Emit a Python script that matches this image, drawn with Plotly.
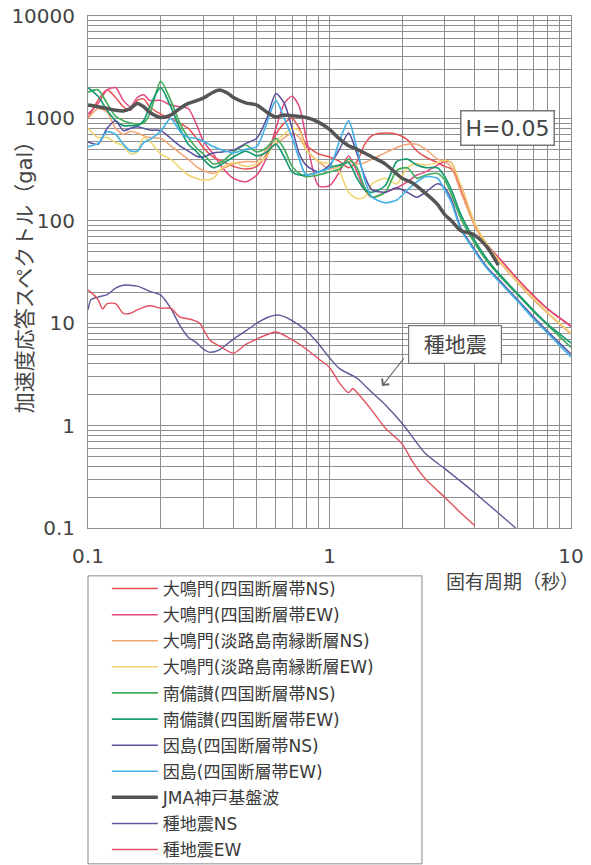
import plotly.graph_objects as go

# ---------------- data ----------------
site_periods = [0.1, 0.11, 0.12, 0.13, 0.14, 0.15, 0.16, 0.17, 0.18,
                0.2, 0.22, 0.24, 0.26, 0.28, 0.3,
                0.33, 0.36, 0.4, 0.45, 0.5,
                0.55, 0.6, 0.65, 0.7, 0.75, 0.8,
                0.9, 1.0, 1.1, 1.2, 1.3, 1.4, 1.5,
                1.7, 1.9, 2.1, 2.3, 2.5,
                2.8, 3.0, 3.2, 3.5, 4.0, 4.5, 5.0,
                6.0, 7.0, 8.0, 10.0]

onaruto_shikoku_ns = [1000, 1500, 1900, 1600, 1300, 1200, 1500, 1550, 1300,
                      1100, 1000, 900, 800, 650, 520,
                      420, 380, 340, 320, 340,
                      450, 700, 900, 1000, 800, 550,
                      450, 420, 380, 330, 380, 560, 680,
                      720, 700, 620, 480, 420,
                      370, 340, 320, 220, 92, 58, 44,
                      27, 18.5, 13.8, 9.4]

onaruto_shikoku_ew = [1100, 1400, 1900, 2000, 1500, 1300, 1600, 1700, 1500,
                      1500, 1350, 1300, 1250, 900, 600,
                      450, 330, 260, 240, 280,
                      420, 800, 1400, 1650, 1300, 650,
                      220, 220, 300, 430, 300, 200, 170,
                      190, 210, 240, 280, 300,
                      350, 380, 370, 200, 92, 58, 44,
                      27, 18.5, 13.8, 9.3]

onaruto_awaji_ns = [1000, 1250, 1150, 800, 700, 750, 720, 680, 650,
                    640, 540, 460, 400, 340, 310,
                    290, 320, 360, 380, 380,
                    500, 560, 650, 720, 650, 500,
                    380, 320, 340, 380, 360, 370, 400,
                    460, 520, 560, 560, 500,
                    400, 380, 330, 190, 88, 55, 41,
                    25, 17, 12.5, 7.8]

onaruto_awaji_ew = [800, 650, 650, 580, 540, 450, 470, 650, 600,
                    450, 400, 330, 280, 260, 250,
                    260, 330, 370, 340, 360,
                    430, 600, 700, 800, 760, 500,
                    380, 360, 300, 190, 165, 170, 230,
                    260, 230, 330, 360, 350,
                    370, 390, 370, 220, 95, 58, 42,
                    25.5, 17.5, 12.8, 8.0]

minamibisan_ns = [1800, 1900, 1400, 1050, 950, 900, 880, 900, 1100,
                  2300, 1500, 900, 650, 520, 450,
                  360, 380, 470, 550, 470,
                  520, 640, 500, 340, 290, 270,
                  280, 300, 320, 400, 330, 210, 170,
                  190, 310, 330, 260, 280,
                  290, 250, 180, 105, 60, 40, 30,
                  19, 13, 9.6, 5.8]

minamibisan_ew = [2000, 1650, 1200, 950, 850, 850, 850, 950, 1300,
                  2000, 1300, 800, 560, 480, 400,
                  330, 360, 420, 480, 430,
                  470, 560, 420, 300, 280, 280,
                  300, 330, 350, 370, 260, 200, 190,
                  220, 380, 400, 350, 330,
                  330, 270, 200, 115, 64, 42, 31,
                  19.5, 13.3, 9.8, 6.4]

innoshima_ns = [590, 560, 800, 950, 760, 800, 830, 800, 770,
                760, 640, 540, 480, 430, 420,
                460, 470, 490, 570, 640,
                1000, 1750, 1400, 800, 450, 350,
                300, 350, 500, 720, 450, 270, 200,
                190, 210, 190, 170, 190,
                230, 210, 160, 85, 52, 35, 27,
                17, 11.5, 8.3, 5.0]

innoshima_ew = [530, 570, 740, 700, 560, 480, 480, 580, 620,
                750, 1000, 750, 650, 640, 600,
                530, 490, 460, 500, 530,
                900, 1500, 1000, 650, 400, 280,
                300, 330, 600, 950, 500, 250, 170,
                150, 160, 200, 240, 270,
                260, 200, 150, 82, 50, 34, 26,
                16.5, 11, 8.0, 4.7]

jma_periods = [0.1, 0.11, 0.12, 0.13, 0.14, 0.15, 0.16, 0.17, 0.18,
               0.2, 0.22, 0.24, 0.26, 0.28, 0.3,
               0.33, 0.35, 0.38, 0.4,
               0.45, 0.5, 0.55, 0.6, 0.65, 0.7,
               0.8, 0.9, 1.0, 1.1, 1.2, 1.3,
               1.5, 1.7, 2.0, 2.2, 2.5, 2.8,
               3.0, 3.2, 3.5, 3.8, 4.0, 4.5, 5.0]
jma_kobe = [1350, 1300, 1250, 1200, 1180, 1250, 1400, 1300, 1150,
            1020, 1080, 1250, 1400, 1480, 1580,
            1800, 1890, 1750, 1600,
            1420, 1350, 1150, 1030, 1080, 1060,
            1020, 920, 780, 630, 540, 500,
            420, 360, 260, 235, 185, 145,
            115, 100, 80, 76, 72, 55, 37]

seed_ns_periods = [0.1, 0.103, 0.11, 0.12, 0.13, 0.14, 0.16, 0.18, 0.2,
                   0.22, 0.24, 0.26, 0.28, 0.3, 0.32, 0.35,
                   0.4, 0.45, 0.5, 0.55, 0.6, 0.65, 0.7,
                   0.8, 0.9, 1.0, 1.1, 1.3, 1.5, 1.7,
                   2.0, 2.2, 2.5, 3.0, 4.0, 5.0, 5.9]
seed_ns = [13.5, 17, 18, 19, 22, 23.5, 23, 20.5, 18.8,
           14, 9.5, 7.3, 6.5, 5.6, 5.2, 5.5,
           7, 8.4, 10, 11.3, 12, 11.6, 10.6,
           8.5, 6.3, 4.6, 3.6, 2.9, 2.1, 1.6,
           1.05, 0.78, 0.53, 0.38, 0.22, 0.14, 0.1]

seed_ew_periods = [0.1, 0.103, 0.11, 0.115, 0.12, 0.13, 0.14, 0.15, 0.16,
                   0.18, 0.2, 0.22, 0.24, 0.27, 0.29, 0.32,
                   0.35, 0.4, 0.45, 0.5, 0.6, 0.7, 0.8,
                   0.9, 1.0, 1.1, 1.2, 1.25, 1.3, 1.5,
                   1.7, 2.0, 2.2, 2.5, 3.0, 3.5, 4.0]
seed_ew = [21, 20, 17, 13.8, 15.5, 15.5, 12.5, 12.5, 13.5,
           14.8, 14, 14, 11.5, 10.8, 10, 6.8,
           6, 5.1, 6.2, 7, 8.2, 6.9, 5.6,
           4.5, 3.7, 2.6, 2.1, 2.3, 2.1, 1.4,
           0.95, 0.66, 0.45, 0.3, 0.2, 0.14, 0.105]

series_names = ["大鳴門(四国断層帯NS)", "大鳴門(四国断層帯EW)",
                "大鳴門(淡路島南縁断層NS)", "大鳴門(淡路島南縁断層EW)",
                "南備讃(四国断層帯NS)", "南備讃(四国断層帯EW)",
                "因島(四国断層帯NS)", "因島(四国断層帯EW)",
                "JMA神戸基盤波", "種地震NS", "種地震EW"]

x_tick_vals = [0.1, 1, 10]
x_tick_text = ["0.1", "1", "10"]
y_tick_vals = [0.1, 1, 10, 100, 1000, 10000]
y_tick_text = ["0.1", "1", "10", "100", "1000", "10000"]

# ---------------- styles ----------------
colors = ["#e8504f", "#e2477f", "#f0a472", "#f0d46c", "#43ad5c", "#189a72",
          "#584e9c", "#47b3e6", "#555555", "#5a5a98", "#e25060"]
widths = [1.5, 1.5, 1.5, 1.5, 1.7, 1.7, 1.5, 1.7, 3.5, 1.4, 1.4]

xs = [site_periods] * 8 + [jma_periods, seed_ns_periods, seed_ew_periods]
ys = [onaruto_shikoku_ns, onaruto_shikoku_ew, onaruto_awaji_ns, onaruto_awaji_ew,
      minamibisan_ns, minamibisan_ew, innoshima_ns, innoshima_ew,
      jma_kobe, seed_ns, seed_ew]

FONT = "DejaVu Sans, Noto Sans CJK JP, sans-serif"
GRID = "#8f8f8f"

fig = go.Figure()
for i, (name, xv, yv) in enumerate(zip(series_names, xs, ys)):
    fig.add_trace(go.Scatter(
        x=xv, y=yv, name=name, mode="lines",
        line=dict(color=colors[i], width=widths[i], shape="spline", smoothing=0.7),
        legendgroup=f"g{i}",
    ))

x_minor = [m * 10 ** e for e in (-1, 0) for m in range(2, 10)]
y_minor = [m * 10 ** e for e in range(-1, 4) for m in range(2, 10)]

fig.update_layout(
    width=591, height=865,
    margin=dict(l=88, r=20, t=16, b=337, autoexpand=False),
    paper_bgcolor="white", plot_bgcolor="white",
    font=dict(family=FONT, color="#444444"),
    showlegend=True,
    legend=dict(
        x=0.039, y=-0.084, xanchor="left", yanchor="top",
        bgcolor="rgba(0,0,0,0)", borderwidth=0,
        font=dict(size=17, color="#3a3a3a", family=FONT),
        tracegroupgap=1, itemwidth=46,
    ),
    xaxis=dict(
        type="log", range=[-1, 1], autorange=False,
        tickmode="array", tickvals=x_tick_vals, ticktext=x_tick_text,
        tickfont=dict(size=20, color="#444444"),
        showgrid=True, gridcolor=GRID, gridwidth=1,
        minor=dict(tickmode="array", tickvals=x_minor, showgrid=True,
                   gridcolor=GRID, gridwidth=1),
        showline=True, mirror=True, linecolor=GRID, linewidth=1,
        ticks="", ticklabelstandoff=10, zeroline=False, automargin=False,
    ),
    yaxis=dict(
        type="log", range=[-1, 4], autorange=False,
        tickmode="array", tickvals=y_tick_vals, ticktext=y_tick_text,
        tickfont=dict(size=20, color="#444444"),
        showgrid=True, gridcolor=GRID, gridwidth=1,
        minor=dict(tickmode="array", tickvals=y_minor, showgrid=True,
                   gridcolor=GRID, gridwidth=1),
        showline=True, mirror=True, linecolor=GRID, linewidth=1,
        ticks="", ticklabelstandoff=8, zeroline=False, automargin=False,
    ),
    shapes=[dict(type="rect", xref="paper", yref="paper",
                 x0=0, x1=0.6915, y0=-0.656, y1=-0.0935,
                 line=dict(color="#8a8a8a", width=1), fillcolor="rgba(0,0,0,0)")],
    annotations=[
        dict(text="加速度応答スペクトル（gal）", xref="paper", yref="paper",
             x=-0.13, y=0.5, textangle=-90, showarrow=False,
             xanchor="center", yanchor="middle",
             font=dict(size=21, color="#444444", family=FONT)),
        dict(text="固有周期（秒）", xref="paper", yref="paper",
             x=1.02, y=-0.105, showarrow=False, xanchor="right", yanchor="middle",
             font=dict(size=19, color="#444444", family=FONT)),
        dict(text="H=0.05", xref="paper", yref="paper",
             x=0.8675, y=0.781, showarrow=False, xanchor="center", yanchor="middle",
             font=dict(size=22, color="#444444", family=FONT),
             bgcolor="white", bordercolor="#777777", borderwidth=1.5, borderpad=4),
        dict(text="種地震", xref="paper", yref="paper",
             x=0.76, y=0.358, showarrow=False, xanchor="center", yanchor="middle",
             font=dict(size=21, color="#444444", family=FONT),
             bgcolor="white", bordercolor="#777777", borderwidth=1.2,
             width=88, height=33, borderpad=2),
        dict(text="", xref="paper", yref="paper",
             x=0.6087, y=0.2773, ax=23, ay=-29,
             showarrow=True, arrowhead=4, arrowsize=1.6, arrowwidth=1.1,
             arrowcolor="#666666"),
    ],
)

fig.write_html("out.html")
